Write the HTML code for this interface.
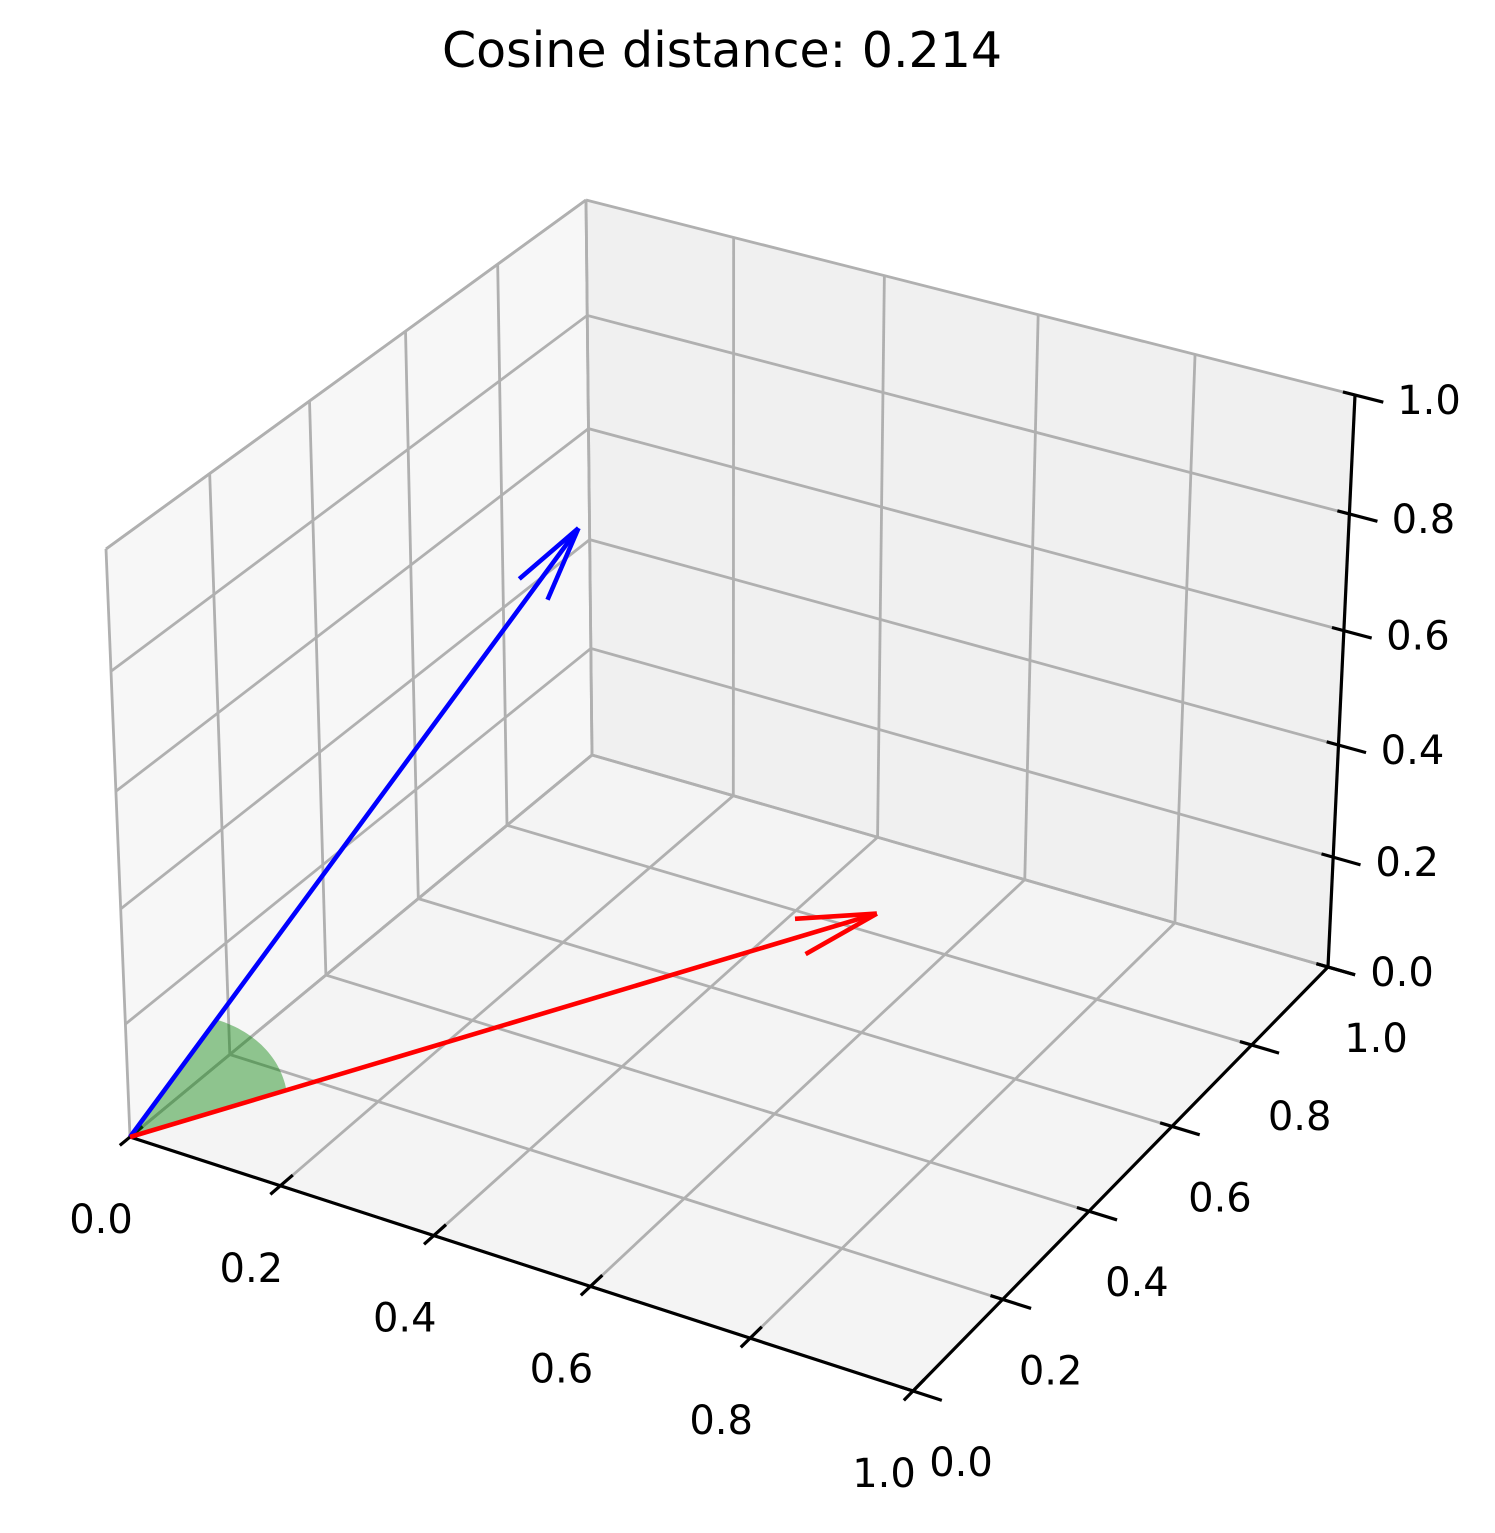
<!DOCTYPE html>
<html><head><meta charset="utf-8"><style>
html,body{margin:0;padding:0;background:#fff;}
svg{display:block;font-family:"DejaVu Sans","Liberation Sans",sans-serif;}
</style></head><body>
<svg id="chart" width="1495" height="1533" viewBox="0 0 1495 1533" xmlns="http://www.w3.org/2000/svg">
<rect width="1495" height="1533" fill="#fff"/>
<text x="722" y="67" font-size="49" text-anchor="middle" fill="#000">Cosine distance: 0.214</text>
<g id="panes"></g><g id="grid"></g><g id="axes"></g><g id="marks"></g>
</svg>
<script>
// data
const xTicks = [0, 0.2, 0.4, 0.6, 0.8, 1.0];
const yTicks = [0, 0.2, 0.4, 0.6, 0.8, 1.0];
const zTicks = [0, 0.2, 0.4, 0.6, 0.8, 1.0];
const xTickLabels = ["0.0","0.2","0.4","0.6","0.8","1.0"];
const yTickLabels = ["0.0","0.2","0.4","0.6","0.8","1.0"];
const zTickLabels = ["0.0","0.2","0.4","0.6","0.8","1.0"];
const vectorA = [0.245, 0.57, 0.77];  // blue
const vectorB = [0.517, 0.785, 0.052]; // red

const C = {
 c000:[130,1137], c100:[913,1391], c010:[592,755], c110:[1328,967],
 c001:[106,549], c101:[922,785], c011:[586,200], c111:[1355,395]
};
function lerp(a,b,t){return [a[0]+(b[0]-a[0])*t, a[1]+(b[1]-a[1])*t];}
function P(x,y,z){
  x = x*(1-0.05*(1-x));
  y = y*(1+0.1*(1-y));
  z = z*(1-0.05*(1-z));
  const b0=lerp(lerp(C.c000,C.c100,x),lerp(C.c010,C.c110,x),y);
  const b1=lerp(lerp(C.c001,C.c101,x),lerp(C.c011,C.c111,x),y);
  return lerp(b0,b1,z);
}
const NS="http://www.w3.org/2000/svg";
function mk(parent,tag,attrs){const e=document.createElementNS(NS,tag);for(const k in attrs)e.setAttribute(k,attrs[k]);parent.appendChild(e);return e;}
const panes=document.getElementById('panes'),grid=document.getElementById('grid'),axes=document.getElementById('axes'),marks=document.getElementById('marks');
function poly(pts){return pts.map(p=>p[0].toFixed(1)+','+p[1].toFixed(1)).join(' ');}

let e;
e=mk(panes,'polygon',{points:poly([P(0,0,0),P(0,1,0),P(0,1,1),P(0,0,1)]),fill:'#f7f7f7'});


e=mk(panes,'polygon',{points:poly([P(0,1,0),P(1,1,0),P(1,1,1),P(0,1,1)]),fill:'#f0f0f0'});


e=mk(panes,'polygon',{points:poly([P(0,0,0),P(1,0,0),P(1,1,0),P(0,1,0)]),fill:'#f4f4f4'});



function gline(a,b,name){
  const l=mk(grid,'line',{x1:a[0],y1:a[1],x2:b[0],y2:b[1],stroke:'#b0b0b0','stroke-width':2.8});
  
  
}
xTicks.forEach(v=>{gline(P(v,0,0),P(v,1,0),'x-gridline-floor');gline(P(v,1,0),P(v,1,1),'x-gridline-back');});
yTicks.forEach(v=>{gline(P(0,v,0),P(1,v,0),'y-gridline-floor');gline(P(0,v,0),P(0,v,1),'y-gridline-left');});
zTicks.forEach(v=>{gline(P(0,0,v),P(0,1,v),'z-gridline-left');gline(P(0,1,v),P(1,1,v),'z-gridline-back');});
gline(P(0,0,0),P(0,1,0),'pane-edge');gline(P(0,0,1),P(0,1,1),'pane-edge');

function aline(a,b,name){
  const l=mk(axes,'line',{x1:a[0],y1:a[1],x2:b[0],y2:b[1],stroke:'#000','stroke-width':3.2});
  
  
}
aline(P(0,0,0),P(1,0,0),'x-axis-line');
aline(P(1,0,0),P(1,1,0),'y-axis-line');
aline(P(1,1,0),P(1,1,1),'z-axis-line');
function label(txt,x,y,name){
  const t=mk(axes,'text',{x:x,y:y,'font-size':40,'text-anchor':'middle','dominant-baseline':'central',fill:'#000'});
  t.textContent=txt;
  
  
}
xTicks.forEach((v,i)=>{
  const p=P(v,0,0),a=P(v,-0.02,0),b=P(v,0.025,0);
  aline(a,b,'x-tick');
  label(xTickLabels[i],p[0]-29,p[1]+83,'x-tick-label');
});
yTicks.forEach((v,i)=>{
  const p=P(1,v,0),a=P(0.985,v,0),b=P(1.035,v,0);
  aline(a,b,'y-tick');
  label(yTickLabels[i],p[0]+48,p[1]+72,'y-tick-label');
});
zTicks.forEach((v,i)=>{
  const p=P(1,1,v),a=P(0.985,1,v),b=P(1.035,1,v);
  aline(a,b,'z-tick');
  label(zTickLabels[i],p[0]+74,p[1]+6,'z-tick-label');
});

function norm(v){const n=Math.hypot(v[0],v[1],v[2]);return v.map(c=>c/n);}
const ua=norm(vectorA),ub=norm(vectorB);
const ang=Math.acos(ua[0]*ub[0]+ua[1]*ub[1]+ua[2]*ub[2]);
const r=0.19,wp=[P(0,0,0)];
for(let i=0;i<=30;i++){
  const t=i/30,s=Math.sin(ang);
  const wa=Math.sin((1-t)*ang)/s,wb=Math.sin(t*ang)/s;
  wp.push(P(r*(wa*ua[0]+wb*ub[0]),r*(wa*ua[1]+wb*ub[1]),r*(wa*ua[2]+wb*ub[2])));
}
e=mk(marks,'polygon',{points:poly(wp),fill:'#008000','fill-opacity':0.42});



function arrow(v,color,name,hl,deg){
  const o=P(0,0,0),tip=P(v[0],v[1],v[2]);
  const g=mk(marks,'g',{stroke:color,'stroke-width':4.6,fill:'none'});
  
  
  mk(g,'line',{x1:o[0],y1:o[1],x2:tip[0],y2:tip[1]});
  const dx=o[0]-tip[0],dy=o[1]-tip[1],n=Math.hypot(dx,dy);
  const ux=dx/n,uy=dy/n;
  [deg,-deg].forEach(d=>{
    const a=d*Math.PI/180,c=Math.cos(a),s=Math.sin(a);
    const wx=ux*c-uy*s,wy=ux*s+uy*c;
    mk(g,'line',{x1:tip[0],y1:tip[1],x2:tip[0]+wx*hl,y2:tip[1]+wy*hl});
  });
}
arrow(vectorA,'#0000ff','vector-a-blue',78,13);
arrow(vectorB,'#ff0000','vector-b-red',82,13);
</script>
</body></html>
